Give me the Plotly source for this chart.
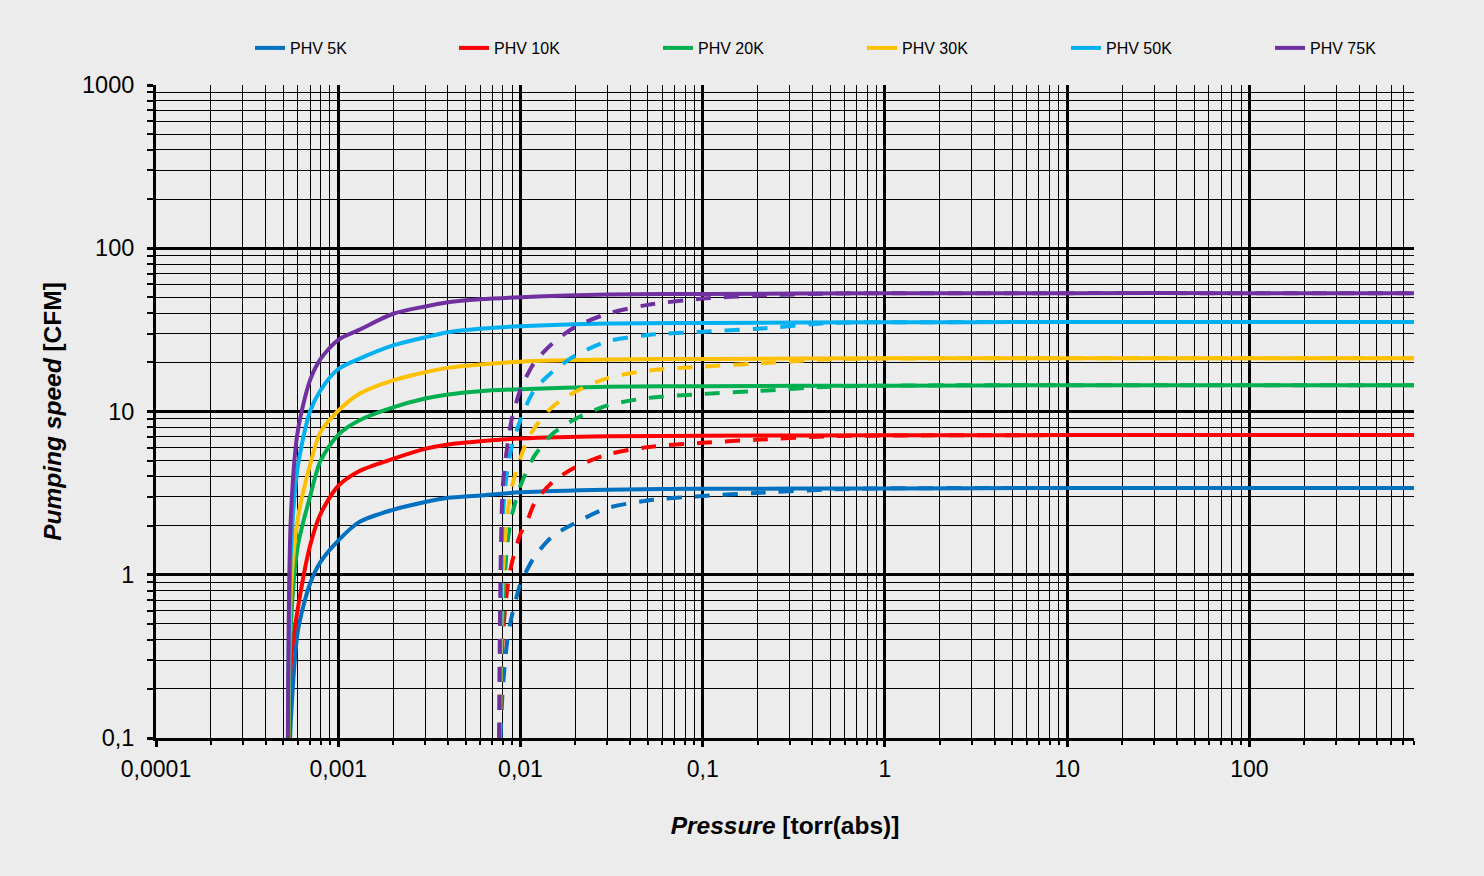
import plotly.graph_objects as go

# ---------------- data ----------------
series_names = ["PHV 5K", "PHV 10K", "PHV 20K", "PHV 30K", "PHV 50K", "PHV 75K"]
series_colors = ["#0070C0", "#FF0000", "#00B050", "#FFC000", "#00B0F0", "#7030A0"]

# solid curves
solid_start_p = [0.000545, 0.00054, 0.000535, 0.000532, 0.00053, 0.000529]
solid_p = [0.00055, 0.0006, 0.0007, 0.0008, 0.001, 0.0013, 0.002, 0.003, 0.004,
           0.006, 0.01, 0.03, 0.1, 1, 10, 100, 800]
solid_5k = [0.13, 0.45, 0.88, 1.2, 1.62, 2.1, 2.5, 2.79, 2.96, 3.06, 3.2, 3.32, 3.36, 3.38, 3.4, 3.4, 3.4]
solid_10k = [0.3, 0.62, 1.5, 2.36, 3.5, 4.31, 5.13, 5.9, 6.28, 6.58, 6.83, 7.05, 7.1, 7.15, 7.17, 7.17, 7.17]
solid_20k = [0.5, 1.5, 3.0, 5.0, 7.2, 8.8, 10.6, 12.0, 12.7, 13.3, 13.7, 14.2, 14.3, 14.4, 14.5, 14.5, 14.5]
solid_30k = [0.8, 2.2, 4.7, 7.5, 10.1, 12.8, 15.5, 17.4, 18.5, 19.4, 20.2, 20.8, 21.0, 21.2, 21.2, 21.2, 21.2]
solid_50k = [1.4, 4.6, 10.0, 13.5, 18.2, 21.0, 25.4, 28.5, 30.6, 32.1, 33.3, 34.6, 34.9, 35.2, 35.3, 35.3, 35.3]
solid_75k = [2.3, 7.6, 15.5, 21.0, 27.5, 31.6, 39.7, 44.0, 46.7, 48.7, 50.1, 52.0, 52.5, 53.0, 53.1, 53.1, 53.1]

# dashed curves
dash_start_p = [0.00777, 0.0077, 0.0077, 0.0077, 0.0077, 0.00763]
dash_p = [0.008, 0.0085, 0.009, 0.01, 0.011, 0.012, 0.015, 0.02, 0.03, 0.05,
          0.1, 0.2, 0.5, 1, 10, 100, 800]
dash_5k = [0.2, 0.41, 0.57, 0.88, 1.1, 1.3, 1.72, 2.08, 2.56, 2.85, 3.04, 3.17, 3.33, 3.38, 3.4, 3.4, 3.4]
dash_10k = [0.42, 0.85, 1.2, 1.78, 2.2, 2.78, 3.7, 4.55, 5.45, 6.05, 6.43, 6.72, 7.05, 7.12, 7.17, 7.17, 7.17]
dash_20k = [0.6, 1.6, 2.35, 3.5, 4.5, 5.4, 7.3, 9.0, 10.9, 12.1, 12.8, 13.35, 14.2, 14.4, 14.5, 14.5, 14.5]
dash_30k = [1.0, 2.4, 3.5, 5.2, 6.8, 8.0, 10.7, 13.2, 16.0, 17.8, 18.85, 19.7, 20.9, 21.1, 21.2, 21.2, 21.2]
dash_50k = [2.3, 4.5, 6.2, 8.9, 11.5, 13.7, 17.5, 22.0, 26.9, 29.4, 30.8, 32.1, 34.9, 35.2, 35.3, 35.3, 35.3]
dash_75k = [3.5, 6.3, 9.2, 13.6, 17.1, 20.1, 26.2, 33.0, 39.7, 45.0, 49.2, 51.3, 52.8, 53.0, 53.1, 53.1, 53.1]

floor_speed = 0.1

x_tick_vals = [0.0001, 0.001, 0.01, 0.1, 1, 10, 100]
x_tick_text = ["0,0001", "0,001", "0,01", "0,1", "1", "10", "100"]
y_tick_vals = [0.1, 1, 10, 100, 1000]
y_tick_text = ["0,1", "1", "10", "100", "1000"]

solid_series = [solid_5k, solid_10k, solid_20k, solid_30k, solid_50k, solid_75k]
dash_series = [dash_5k, dash_10k, dash_20k, dash_30k, dash_50k, dash_75k]

# ---------------- figure ----------------
BG = "#ECECEC"
FONT = "Liberation Sans, Arial, sans-serif"
fig = go.Figure()

for name, color, p0, ys in zip(series_names, series_colors, solid_start_p, solid_series):
    fig.add_trace(go.Scatter(
        x=[p0] + solid_p, y=[floor_speed] + ys, mode="lines", name=name,
        line=dict(color=color, width=4, shape="spline", smoothing=0.8),
        cliponaxis=True))

for name, color, p0, ys in zip(series_names, series_colors, dash_start_p, dash_series):
    fig.add_trace(go.Scatter(
        x=[p0] + dash_p, y=[floor_speed] + ys, mode="lines", name=name,
        showlegend=False,
        line=dict(color=color, width=4, dash="15px,13px", shape="spline", smoothing=0.8),
        cliponaxis=True))

# minor tick positions (2..9 of each decade)
x_minor = [m * 10.0 ** e for e in range(-4, 3) for m in range(2, 10) if m * 10.0 ** e <= 800]
y_minor = [m * 10.0 ** e for e in range(-1, 3) for m in range(2, 10)]

fig.update_layout(
    width=1484, height=876,
    paper_bgcolor=BG, plot_bgcolor=BG,
    margin=dict(l=156, r=70, t=85, b=138, autoexpand=False),
    font=dict(family=FONT, color="black"),
    showlegend=True,
    legend=dict(
        orientation="h", xref="container", yref="container",
        x=250 / 1484, y=1 - 31 / 876, xanchor="left", yanchor="top",
        entrywidth=159, entrywidthmode="pixels",
        font=dict(size=16, family=FONT), bgcolor="rgba(0,0,0,0)",
        tracegroupgap=0,
    ),
)

fig.update_xaxes(
    type="log", range=[-4, 2.90309],
    tickmode="array", tickvals=x_tick_vals, ticktext=x_tick_text,
    showgrid=True, gridcolor="black", gridwidth=2.5,
    showline=True, linecolor="black", linewidth=3,
    ticks="outside", ticklen=6, tickwidth=2.5, tickcolor="black",
    tickfont=dict(size=23, family=FONT), ticklabelstandoff=2,
    minor=dict(tickmode="array", tickvals=x_minor, showgrid=True, gridcolor="black",
               gridwidth=1.3, ticks="outside", ticklen=4, tickwidth=2, tickcolor="black"),
    zeroline=False,
    title=dict(text="<b><i>Pressure</i> [torr(abs)]</b>", font=dict(size=24.5, family=FONT), standoff=37),
)

fig.update_yaxes(
    type="log", range=[-1, 3],
    tickmode="array", tickvals=y_tick_vals, ticktext=y_tick_text,
    showgrid=True, gridcolor="black", gridwidth=2.5,
    showline=True, linecolor="black", linewidth=3,
    ticks="outside", ticklen=6, tickwidth=2.5, tickcolor="black",
    tickfont=dict(size=23.5, family=FONT), ticklabelstandoff=8,
    minor=dict(tickmode="array", tickvals=y_minor, showgrid=True, gridcolor="black",
               gridwidth=1.3, ticks="outside", ticklen=6, tickwidth=2, tickcolor="black"),
    zeroline=False,
    title=dict(text="<b><i>Pumping speed</i> [CFM]</b>", font=dict(size=24.5, family=FONT), standoff=14),
)

fig.write_html("out.html")
